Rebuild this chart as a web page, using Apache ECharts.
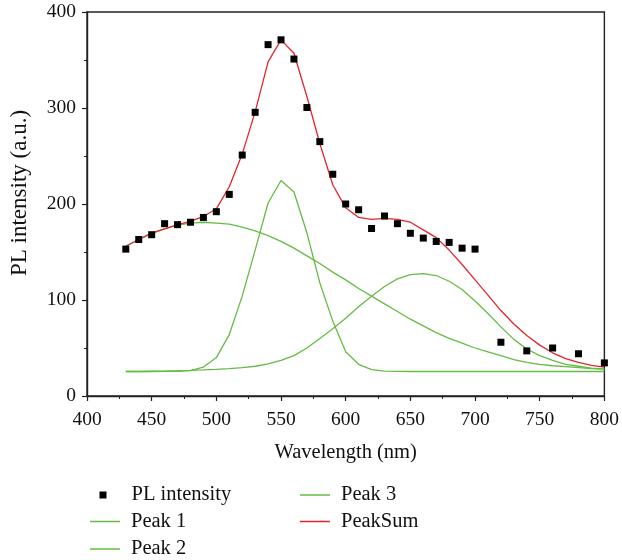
<!DOCTYPE html>
<html>
<head>
<meta charset="utf-8">
<script src="https://cdn.jsdelivr.net/npm/echarts@6/dist/echarts.min.js"></script>
<style>
  html, body { margin: 0; padding: 0; background: #fff; }
  #chart { width: 622px; height: 560px; }
</style>
</head>
<body>
<div id="chart"></div>
<script>
// Measured PL spectrum (wavelength in nm, intensity in a.u.)
const pointWavelength = [430, 440, 450, 460, 470, 480, 490, 500, 510, 520, 530, 540, 550, 560, 570, 580, 590,
  600, 610, 620, 630, 640, 650, 660, 670, 680, 690, 700, 720, 740, 760, 780, 800];
const pointIntensity = [153, 163, 168, 179.5, 178.5, 181, 186, 192, 210, 251, 295.5, 366, 371, 351, 300.5, 265, 231,
  200, 194, 174.5, 187.5, 179.5, 169.5, 164.5, 161, 160, 154, 153, 56, 47, 50, 44, 34.5];

// Fitted components, sampled every 10 nm from 430 to 800
const fitWavelength = [430, 440, 450, 460, 470, 480, 490, 500, 510, 520, 530, 540, 550, 560, 570, 580, 590, 600,
  610, 620, 630, 640, 650, 660, 670, 680, 690, 700, 710, 720, 730, 740, 750, 760, 770, 780, 790, 800];
const peak1 = [156, 163, 169, 174, 178, 180, 181, 180, 179, 176, 172, 167, 161, 154, 146, 138, 129, 121,
  112, 104, 96, 88, 80, 73, 66, 60, 55, 50, 46, 42, 38, 35, 33, 31.5, 30.5, 29.5, 28.5, 28];
const peak2 = [25.5, 25.5, 25.5, 25.6, 25.8, 26.5, 30, 40, 64, 104, 152, 201, 224.5, 212.5, 170, 118, 78, 46,
  33, 27.5, 26, 25.6, 25.5, 25.5, 25.5, 25.5, 25.5, 25.5, 25.5, 25.5, 25.5, 25.5, 25.5, 25.5, 25.5, 25.5, 25.5, 25.5];
const peak3 = [25.5, 25.5, 25.8, 26, 26.3, 26.7, 27.2, 27.8, 28.5, 29.5, 31, 33.5, 37, 42, 50, 60, 70, 81,
  93, 104, 114, 122, 126.5, 127.5, 125.5, 119.5, 111, 99, 86, 72, 59, 49, 42, 37, 33, 31, 29, 28];
const peakSum = [156, 163, 170, 174, 178.5, 182, 187, 195, 218, 252, 296, 348, 371, 357, 312, 263, 220, 196,
  186, 184, 185, 184, 181, 173, 165, 152, 137, 121, 105, 89, 75, 63, 53, 45, 39, 35, 32, 30];

const xTicks = { min: 400, max: 800, step: 50 };
const yTicks = { min: 0, max: 400, step: 100 };

const FONT = 'Liberation Serif';
const GREEN = '#66bb45';
const RED = '#e3262c';
const INK = '#111';

const zip = (xs, ys) => xs.map((x, i) => [x, ys[i]]);

function lineSeries(name, values, color) {
  return {
    name: name,
    type: 'line',
    data: zip(fitWavelength, values),
    symbol: 'none',
    lineStyle: { color: color, width: 1.3 },
    itemStyle: { color: color },
    z: 3
  };
}

// One legend block per entry so each row sits exactly where it belongs
function legendAt(name, left, centerY, opts) {
  return Object.assign({
    data: [name],
    left: left,
    top: centerY - 12,
    padding: 0,
    icon: 'rect',
    itemWidth: 30,
    itemHeight: 1.5,
    textStyle: { fontFamily: FONT, fontSize: 20.5, color: INK, lineHeight: 24, padding: [0, 0, 0, 6] }
  }, opts || {});
}

const axisCommon = {
  type: 'value',
  axisLine: { show: true, onZero: false, lineStyle: { color: '#222', width: 1.4 } },
  axisTick: { show: true, inside: false, length: 5, lineStyle: { color: '#222', width: 1.2 } },
  minorTick: { show: true, splitNumber: 2, length: 3, lineStyle: { color: '#222', width: 1 } },
  splitLine: { show: false },
  axisLabel: { fontFamily: FONT, fontSize: 19.5, color: INK },
  nameTextStyle: { fontFamily: FONT, fontSize: 20.5, color: INK }
};

const chart = echarts.init(document.getElementById('chart'), null, { renderer: 'canvas' });
chart.setOption({
  animation: false,
  backgroundColor: '#fff',
  grid: { left: 84, right: 16, top: 12, bottom: 164, show: true, borderColor: '#222', borderWidth: 1.4 },
  xAxis: Object.assign({}, axisCommon, {
    min: xTicks.min, max: xTicks.max, interval: xTicks.step,
    name: 'Wavelength (nm)', nameLocation: 'middle', nameGap: 46,
    axisLabel: Object.assign({}, axisCommon.axisLabel, { margin: 14 })
  }),
  yAxis: Object.assign({}, axisCommon, {
    min: yTicks.min, max: yTicks.max, interval: yTicks.step,
    name: 'PL intensity (a.u.)', nameLocation: 'middle', nameGap: 56,
    nameTextStyle: { fontFamily: FONT, fontSize: 23, color: INK, padding: [0, 0, 0, 22] },
    axisLabel: Object.assign({}, axisCommon.axisLabel, { margin: 11 })
  }),
  legend: [
    legendAt('PL intensity', 99.5, 495, {
      itemWidth: 7, itemHeight: 7,
      textStyle: { fontFamily: FONT, fontSize: 20.5, color: INK, lineHeight: 24, padding: [0, 0, 0, 20] }
    }),
    legendAt('Peak 1', 90, 521.5),
    legendAt('Peak 2', 90, 549),
    legendAt('Peak 3', 300, 495),
    legendAt('PeakSum', 300, 521.5)
  ],
  series: [
    {
      name: 'PL intensity',
      type: 'scatter',
      data: zip(pointWavelength, pointIntensity),
      symbol: 'rect',
      symbolSize: 7,
      itemStyle: { color: '#000', opacity: 1 },
      clip: false,
      z: 5
    },
    lineSeries('Peak 1', peak1, GREEN),
    lineSeries('Peak 2', peak2, GREEN),
    lineSeries('Peak 3', peak3, GREEN),
    lineSeries('PeakSum', peakSum, RED)
  ]
});
</script>
</body>
</html>
